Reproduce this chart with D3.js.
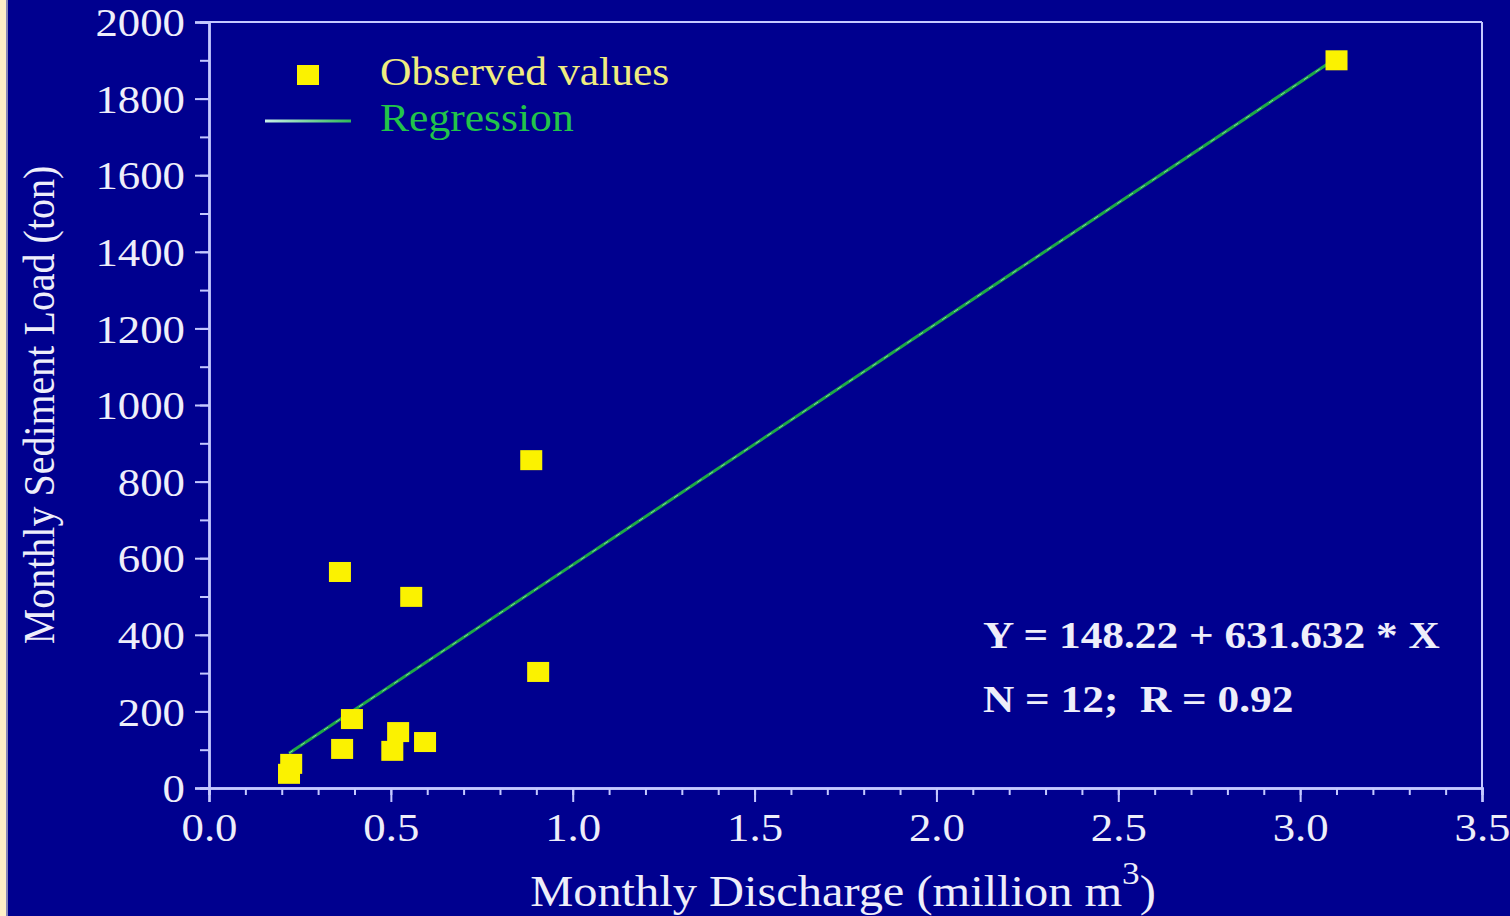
<!DOCTYPE html>
<html>
<head>
<meta charset="utf-8">
<script src="https://cdn.jsdelivr.net/npm/d3@7"></script>
<style>
  html, body { margin: 0; padding: 0; background: #00008f; }
  svg { display: block; }
  text { font-family: "Liberation Serif", "Times New Roman", serif; white-space: pre; }
</style>
</head>
<body>
<svg id="chart" width="1510" height="916"></svg>
<script>
// Monthly discharge (million m3) and sediment load (ton), one entry per month
const discharge = [3.10, 0.886, 0.360, 0.556, 0.905, 0.393, 0.520, 0.594, 0.366, 0.504, 0.226, 0.220];
const sediment  = [1900, 856, 564, 499, 303, 180, 146, 120, 102, 97, 63, 37];

const xTicks = [0.0, 0.5, 1.0, 1.5, 2.0, 2.5, 3.0, 3.5];
const yTicks = [0, 200, 400, 600, 800, 1000, 1200, 1400, 1600, 1800, 2000];
const legendLabels = ["Observed values", "Regression"];
const statLines = ["Y = 148.22 + 631.632 * X", "N = 12;  R = 0.92"];

const W = 1510, H = 916;
const plot = { left: 209, right: 1482, top: 22, bottom: 788 };
const axisColor = "#c4c8ff";
const textColor = "#eeeefa";
const wide = 1.12; // glyphs are drawn slightly wider than tall

const svg = d3.select("#chart");

// background and the pale strip at the left edge
svg.append("rect").attr("width", W).attr("height", H).attr("fill", "#00008f");
svg.append("rect").attr("x", 0).attr("y", 0).attr("width", 6).attr("height", H).attr("fill", "#fff0c8");
svg.append("rect").attr("x", 6).attr("y", 0).attr("width", 2).attr("height", H).attr("fill", "#8a88b8");

const x = d3.scaleLinear().domain([0, 3.5]).range([plot.left, plot.right]);
const y = d3.scaleLinear().domain([0, 2000]).range([plot.bottom, plot.top]);

// frame: top and right borders
svg.append("line").attr("x1", x(0)).attr("x2", x(3.5)).attr("y1", y(2000)).attr("y2", y(2000))
  .attr("stroke", axisColor).attr("stroke-width", 2);
svg.append("line").attr("x1", x(3.5)).attr("x2", x(3.5)).attr("y1", y(2000)).attr("y2", y(0))
  .attr("stroke", axisColor).attr("stroke-width", 2);

// x axis
const xAxisMinor = d3.axisBottom(x).tickValues(d3.range(0, 36).map(i => i / 10)).tickSize(7).tickFormat("");
const xAxis = d3.axisBottom(x).tickValues(xTicks).tickSize(14).tickPadding(11).tickFormat(d3.format(".1f"));
const gxm = svg.append("g").attr("transform", `translate(0,${plot.bottom})`).call(xAxisMinor);
const gx = svg.append("g").attr("transform", `translate(0,${plot.bottom})`).call(xAxis);

// y axis
const yAxisMinor = d3.axisLeft(y).tickValues(d3.range(0, 2001, 100)).tickSize(9).tickFormat("");
const yAxis = d3.axisLeft(y).tickValues(yTicks).tickSize(14).tickPadding(10).tickFormat(d3.format("d"));
const gym = svg.append("g").attr("transform", `translate(${plot.left},0)`).call(yAxisMinor);
const gy = svg.append("g").attr("transform", `translate(${plot.left},0)`).call(yAxis);

[gxm, gx, gym, gy].forEach(g => {
  g.select(".domain").attr("stroke", axisColor).attr("stroke-width", 2.4);
  g.selectAll(".tick line").attr("stroke", axisColor).attr("stroke-width", 2);
  g.selectAll(".tick text").attr("fill", textColor).attr("font-size", 40)
    .attr("font-family", "'Liberation Serif', 'Times New Roman', serif");
});
// widen tick labels about their anchor point
gx.selectAll(".tick text").attr("dy", "0.71em")
  .attr("transform", function () { const ty = +d3.select(this).attr("y"); return `translate(0,${ty}) scale(${wide},1) translate(0,${-ty})`; });
gy.selectAll(".tick text").attr("dy", "0.34em")
  .attr("transform", function () { const tx = +d3.select(this).attr("x"); return `translate(${tx},0) scale(${wide},1) translate(${-tx},0)`; });

// text helper: anchored at (px, py), stretched horizontally by sx
function label(parent, px, py, sx) {
  return parent.append("g").attr("transform", `translate(${px},${py}) scale(${sx},1)`).append("text");
}

// axis titles
svg.append("g").attr("transform", `translate(54,405) scale(${wide},1) rotate(-90)`)
  .append("text")
  .attr("text-anchor", "middle").attr("fill", textColor).attr("font-size", 40)
  .text("Monthly Sediment Load (ton)");

const xt = label(svg, 843, 906, 1.1)
  .attr("text-anchor", "middle").attr("fill", textColor).attr("font-size", 44);
xt.append("tspan").text("Monthly Discharge (million m");
xt.append("tspan").attr("dy", -22).attr("font-size", 32).text("3");
xt.append("tspan").attr("dy", 22).text(")");

// least-squares regression line through the observations
const pts = discharge.map((d, i) => ({ q: d, s: sediment[i] }));
const mx = d3.mean(pts, d => d.q), my = d3.mean(pts, d => d.s);
const sxy = d3.sum(pts, d => (d.q - mx) * (d.s - my));
const sxx = d3.sum(pts, d => (d.q - mx) ** 2);
const slope = sxy / sxx, intercept = my - slope * mx;
const [qMin, qMax] = d3.extent(discharge);
const fit = [qMin, qMax].map(q => ({ q, s: intercept + slope * q }));

const lineGen = d3.line().x(d => x(d.q)).y(d => y(d.s));
svg.append("path").datum(fit).attr("d", lineGen)
  .attr("fill", "none").attr("stroke", "#1fa848").attr("stroke-width", 3);
svg.append("path").datum(fit).attr("d", lineGen)
  .attr("fill", "none").attr("stroke", "#a8e8c0").attr("stroke-width", 1)
  .attr("stroke-dasharray", "5 9").attr("opacity", 0.7);

// observed values
const sq = 22;
svg.append("g").selectAll("rect").data(pts).join("rect")
  .attr("x", d => x(d.q) - sq / 2).attr("y", d => y(d.s) - sq / 2 + 1)
  .attr("width", sq).attr("height", sq - 2)
  .attr("fill", "#fbf200");

// legend
const lg = svg.append("g");
lg.append("rect").attr("x", 297).attr("y", 65).attr("width", 22).attr("height", 20).attr("fill", "#fbf200");
label(lg, 380, 85, 1.09).attr("font-size", 40).attr("fill", "#f0ec80").text(legendLabels[0]);
const lgGrad = svg.append("defs").append("linearGradient").attr("id", "lgline");
lgGrad.append("stop").attr("offset", "0%").attr("stop-color", "#c8f0e8");
lgGrad.append("stop").attr("offset", "100%").attr("stop-color", "#30b858");
lg.append("rect").attr("x", 265).attr("y", 119.5).attr("width", 86).attr("height", 3).attr("fill", "url(#lgline)");
label(lg, 380, 131, 1.09).attr("font-size", 40).attr("fill", "#22c44a").text(legendLabels[1]);

// fitted equation and statistics
statLines.forEach((s, i) => {
  label(svg, 983, 648 + i * 64, 1.14)
    .attr("font-size", 38).attr("font-weight", "bold").attr("fill", textColor)
    .text(s);
});
</script>
</body>
</html>
